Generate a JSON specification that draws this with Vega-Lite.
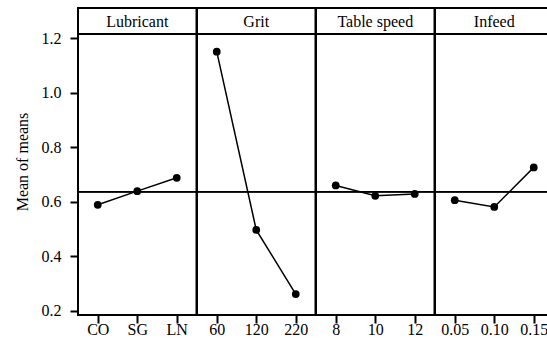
{
  "$schema": "https://vega.github.io/schema/vega-lite/v6.json",
  "padding": {"left": 14, "top": 7, "right": 5, "bottom": 5},
  "background": "white",
  "data": {"values": [
    {"factor": "Lubricant", "level": "CO", "ord": 1, "mean": 0.589},
    {"factor": "Lubricant", "level": "SG", "ord": 2, "mean": 0.639},
    {"factor": "Lubricant", "level": "LN", "ord": 3, "mean": 0.688},
    {"factor": "Grit", "level": "60", "ord": 1, "mean": 1.150},
    {"factor": "Grit", "level": "120", "ord": 2, "mean": 0.497},
    {"factor": "Grit", "level": "220", "ord": 3, "mean": 0.262},
    {"factor": "Table speed", "level": "8", "ord": 1, "mean": 0.660},
    {"factor": "Table speed", "level": "10", "ord": 2, "mean": 0.622},
    {"factor": "Table speed", "level": "12", "ord": 3, "mean": 0.629},
    {"factor": "Infeed", "level": "0.05", "ord": 1, "mean": 0.606},
    {"factor": "Infeed", "level": "0.10", "ord": 2, "mean": 0.581},
    {"factor": "Infeed", "level": "0.15", "ord": 3, "mean": 0.726}
  ]},
  "facet": {
    "column": {
      "field": "factor",
      "type": "nominal",
      "sort": ["Lubricant", "Grit", "Table speed", "Infeed"],
      "title": null,
      "header": {"labels": false, "title": null, "labelPadding": 0, "titlePadding": 0}
    }
  },
  "spacing": 0,
  "bounds": "flush",
  "spec": {
    "width": 118.5,
    "height": 307,
    "layer": [
      {
        "mark": {"type": "rule", "color": "black", "strokeWidth": 1.5},
        "encoding": {"y": {"datum": 0.637, "type": "quantitative"}}
      },
      {
        "mark": {"type": "rule", "color": "black", "strokeWidth": 2},
        "encoding": {"y": {"datum": 1.2147, "type": "quantitative"}}
      },
      {
        "transform": [{"filter": "datum.ord == 2"}],
        "mark": {"type": "text", "font": "Liberation Serif", "fontSize": 16, "color": "black", "baseline": "middle"},
        "encoding": {
          "x": {"field": "level", "type": "ordinal", "sort": {"field": "ord", "op": "min"}, "scale": {"type": "point", "padding": 0.5}},
          "y": {"datum": 1.2586, "type": "quantitative"},
          "text": {"field": "factor"}
        }
      },
      {
        "mark": {"type": "line", "color": "black", "strokeWidth": 1.5, "point": {"filled": true, "color": "black", "size": 60, "opacity": 1}},
        "encoding": {
          "x": {
            "field": "level", "type": "ordinal",
            "sort": {"field": "ord", "op": "min"},
            "scale": {"type": "point", "padding": 0.5},
            "axis": {"title": null, "labelAngle": 0, "labelAlign": "center", "labelFlush": false, "grid": false, "domain": false, "tickSize": 8, "tickWidth": 2, "tickColor": "black", "labelPadding": 6, "labelFont": "Liberation Serif", "labelFontSize": 16, "labelColor": "black"}
          },
          "y": {
            "field": "mean", "type": "quantitative",
            "scale": {"domain": [0.1853, 1.3099], "nice": false, "zero": false},
            "axis": {"title": "Mean of means", "values": [0.2, 0.4, 0.6, 0.8, 1.0, 1.2], "format": ".1f", "grid": false, "domain": false, "tickSize": 8, "tickWidth": 2, "tickColor": "black", "labelPadding": 9, "labelFont": "Liberation Serif", "labelFontSize": 16, "labelColor": "black", "titleFont": "Liberation Serif", "titleFontSize": 16, "titleFontWeight": "normal", "titleColor": "black", "titlePadding": 11}
          }
        }
      }
    ]
  },
  "resolve": {"scale": {"x": "independent"}},
  "config": {
    "view": {"stroke": "black", "strokeWidth": 2},
    "font": "Liberation Serif"
  }
}
